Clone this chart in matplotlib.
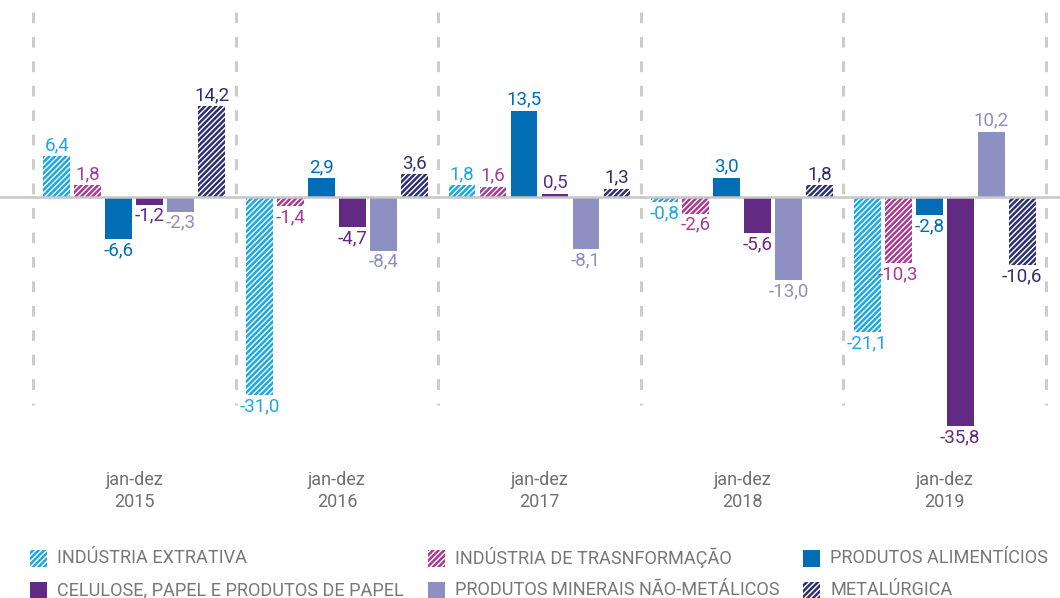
import matplotlib.pyplot as plt
from matplotlib.patches import Rectangle

plt.rcParams['font.family'] = ['Roboto', 'DejaVu Sans']
plt.rcParams['hatch.linewidth'] = 1.8

anos = ["2015", "2016", "2017", "2018", "2019"]
series = [
    "INDÚSTRIA EXTRATIVA",
    "INDÚSTRIA DE TRASNFORMAÇÃO",
    "PRODUTOS ALIMENTÍCIOS",
    "CELULOSE, PAPEL E PRODUTOS DE PAPEL",
    "PRODUTOS MINERAIS NÃO-METÁLICOS",
    "METALÚRGICA",
]
extrativa = [6.4, -31.0, 1.8, -0.8, -21.1]
transformacao = [1.8, -1.4, 1.6, -2.6, -10.3]
alimenticios = [-6.6, 2.9, 13.5, 3.0, -2.8]
celulose = [-1.2, -4.7, 0.5, -5.6, -35.8]
minerais = [-2.3, -8.4, -8.1, -13.0, 10.2]
metalurgica = [14.2, 3.6, 1.3, 1.8, -10.6]

valores = [extrativa, transformacao, alimenticios, celulose, minerais, metalurgica]
cores = ["#1CA8E0", "#A93A92", "#006DB5", "#632A84", "#8E8FC3", "#2D2F6F"]
hachura = [True, True, False, False, False, True]
padrao = "//////"

fig = plt.figure(figsize=(10.6, 5.98), dpi=100)
ax = fig.add_axes([0, 0, 1, 1])
ax.set_xlim(-0.6629, 4.569)
ax.set_ylim(-62.66, 30.78)
ax.axis("off")

# separadores tracejados
for k in range(len(anos) + 1):
    ax.plot([k - 0.5, k - 0.5], [28.9, -32.5], color="#CCCCCC", lw=2.2,
            dashes=(3.5, 4.5), zorder=1)

ax.axhline(0, color="#C6C6C6", lw=1.8, zorder=3)

passo = 0.153
largura = 0.133
for j, (vals, cor, h) in enumerate(zip(valores, cores, hachura)):
    pos = [i + (j - 2.5) * passo for i in range(len(anos))]
    if h:
        ax.bar(pos, vals, width=largura, color="white", edgecolor=cor,
               hatch=padrao, linewidth=0, zorder=2)
    else:
        ax.bar(pos, vals, width=largura, color=cor, linewidth=0, zorder=2)
    for x, v in zip(pos, vals):
        txt = f"{v:.1f}".replace(".", ",")
        if v >= 0:
            ax.annotate(txt, (x, v), xytext=(0, 1.5), textcoords="offset points",
                        ha="center", va="bottom", color=cor, fontsize=13.5)
        else:
            ax.annotate(txt, (x, v), xytext=(0, -1.5), textcoords="offset points",
                        ha="center", va="top", color=cor, fontsize=13.5)

for i, ano in enumerate(anos):
    ax.text(i, -45.9, "jan-dez\n" + ano, ha="center", va="center",
            color="#707070", fontsize=13, linespacing=1.3)

# legenda manual
W, H = 1060, 598
col_x = [30, 428, 803]
lin_y = [558, 590]
ordem = [(0, 0), (1, 0), (2, 0), (3, 1), (4, 1), (5, 1)]
for idx, (s, lin) in enumerate(ordem):
    cx = col_x[idx % 3]
    cy = lin_y[lin]
    sz = 17
    if hachura[s]:
        p = Rectangle((cx / W, 1 - (cy + sz / 2) / H), sz / W, sz / H,
                      transform=fig.transFigure, facecolor="white",
                      edgecolor=cores[s], hatch=padrao, linewidth=0)
    else:
        p = Rectangle((cx / W, 1 - (cy + sz / 2) / H), sz / W, sz / H,
                      transform=fig.transFigure, facecolor=cores[s], linewidth=0)
    fig.add_artist(p)
    fig.text((cx + 27) / W, 1 - cy / H, series[s], ha="left", va="center",
             color="#777777", fontsize=13.1)

fig.savefig("out.png", dpi=100)
